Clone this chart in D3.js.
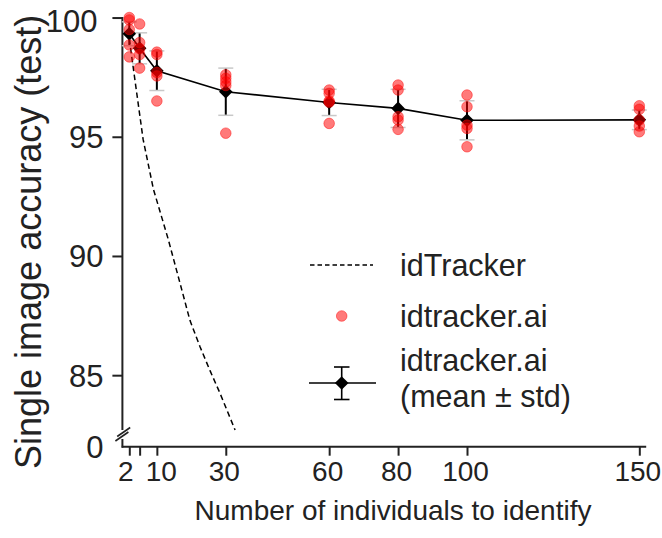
<!DOCTYPE html>
<html>
<head>
<meta charset="utf-8">
<script src="https://cdn.jsdelivr.net/npm/d3@7"></script>
<style>
  html, body { margin: 0; padding: 0; background: #fff; }
  svg { display: block; font-family: "Liberation Sans", Arial, Helvetica, sans-serif; }
  .tick-label { fill: #222; font-size: 28px; }
  .ytick-label { fill: #222; font-size: 31px; }
  .axis-title { fill: #222; font-size: 28px; }
  .axis-title-y { fill: #222; font-size: 36px; }
  .legend-text { fill: #222; font-size: 30.5px; }
</style>
</head>
<body>
<svg id="chart" width="662" height="538"></svg>
<script>
// Number of animals in each group
const groupSizes = [2, 5, 10, 30, 60, 80, 100, 150];

// idtracker.ai single-image accuracy per repetition (%), one list per group size
const accRuns2   = [100.0, 99.9, 99.5, 98.85, 98.35];
const accRuns5   = [99.73, 98.95, 98.7, 98.45, 97.88];
const accRuns10  = [98.55, 98.45, 97.7, 97.55, 96.5];
const accRuns30  = [97.6, 97.45, 97.3, 97.15, 95.15];
const accRuns60  = [96.96, 96.82, 96.5, 96.45, 95.56];
const accRuns80  = [97.17, 96.96, 95.84, 95.7, 95.31];
const accRuns100 = [96.75, 96.26, 95.49, 95.35, 94.58];
const accRuns150 = [96.3, 96.15, 95.7, 95.45, 95.21];

// idtracker.ai mean and standard deviation per group size (%)
const accMean = [99.32, 98.71, 97.77, 96.89, 96.44, 96.19, 95.69, 95.71];
const accStd  = [0.5, 0.65, 0.83, 0.99, 0.55, 0.8, 0.82, 0.41];

// idTracker accuracy curve (%)
const idTrackerN   = [2, 6, 9, 13.3, 17.2, 19.6, 22.5, 25.4, 28.3, 32.7];
const idTrackerAcc = [99.1, 94.9, 92.8, 90.7, 88.6, 87.3, 86.2, 85.2, 84.25, 82.7];

// Axis ticks
const xTickValues = [2, 5, 10, 30, 60, 80, 100, 150];
const xTickLabels = ["2", "", "10", "30", "60", "80", "100", "150"];
const yTickValues = [85, 90, 95, 100];
const yTickLabels = ["85", "90", "95", "100"];

const runsByGroup = [accRuns2, accRuns5, accRuns10, accRuns30, accRuns60, accRuns80, accRuns100, accRuns150];

const svg = d3.select("#chart");

const x = d3.scaleLinear().domain([0, 152]).range([122.4, 646.2]);
const y = d3.scaleLinear().domain([82, 100]).range([446.7, 17.55]);

const axisColor = "#222";
const axisY0 = y(82);

// ---- x axis ----
const xAxis = d3.axisBottom(x)
  .tickValues(xTickValues)
  .tickFormat((d, i) => xTickLabels[i])
  .tickSize(9)
  .tickSizeOuter(0)
  .tickPadding(5);
const gx = svg.append("g").attr("transform", `translate(0,${axisY0})`).call(xAxis);
gx.select(".domain").attr("stroke", axisColor).attr("stroke-width", 2)
  .attr("d", `M${x(0) - 0.7},0H${x(152)}`);
gx.selectAll(".tick line").attr("stroke", axisColor).attr("stroke-width", 2);
gx.selectAll(".tick text").attr("class", "tick-label").attr("font-size", null).attr("font-family", null)
  .attr("dx", d => d === 2 ? "-4" : d === 10 ? "4" : "-2");

// ---- y axis (broken near the bottom) ----
const yAxis = d3.axisLeft(y)
  .tickValues(yTickValues)
  .tickFormat((d, i) => yTickLabels[i])
  .tickSize(10)
  .tickSizeOuter(0)
  .tickPadding(9);
const gy = svg.append("g").attr("transform", `translate(${x(0)},0)`).call(yAxis);
gy.select(".domain").remove();
gy.selectAll(".tick line").attr("stroke", axisColor).attr("stroke-width", 2);
gy.selectAll(".tick text").attr("class", "ytick-label").attr("font-size", null).attr("font-family", null)
  .attr("dy", d => d === 100 ? "0.44em" : "0.35em")
  .attr("dx", d => d === 100 ? "-6" : "0");

// spine segments around the break
const x0 = x(0);
svg.append("line").attr("x1", x0).attr("x2", x0).attr("y1", y(100) - 0.5).attr("y2", 430)
  .attr("stroke", axisColor).attr("stroke-width", 2);
svg.append("line").attr("x1", x0).attr("x2", x0).attr("y1", 439).attr("y2", axisY0 + 1)
  .attr("stroke", axisColor).attr("stroke-width", 2);
// break marks
[[0, 0], [1.8, -4.5]].forEach(([dx, dy]) => {
  svg.append("line")
    .attr("x1", x0 - 7 + dx).attr("y1", 441 + dy)
    .attr("x2", x0 + 6 + dx).attr("y2", 432 + dy)
    .attr("stroke", axisColor).attr("stroke-width", 1.6);
});
// "0" at the base of the broken axis
svg.append("text").attr("class", "ytick-label")
  .attr("x", x0 - 19).attr("y", axisY0).attr("dy", "0.35em")
  .attr("text-anchor", "end").text("0");

// ---- axis titles ----
svg.append("text").attr("class", "axis-title")
  .attr("x", 393).attr("y", 520).attr("text-anchor", "middle")
  .text("Number of individuals to identify");
svg.append("text").attr("class", "axis-title-y")
  .attr("transform", `translate(41,469) rotate(-90)`).attr("text-anchor", "start")
  .text("Single image accuracy (test)");

// ---- idTracker dashed curve ----
const idLine = d3.line().x((d, i) => x(idTrackerN[i])).y(d => y(d));
svg.append("path").datum(idTrackerAcc)
  .attr("d", idLine)
  .attr("fill", "none").attr("stroke", "#000").attr("stroke-width", 1.5)
  .attr("stroke-dasharray", "5.5,3.5");

// ---- idtracker.ai mean ± std ----
const meanLine = d3.line().x((d, i) => x(groupSizes[i])).y(d => y(d));
svg.append("path").datum(accMean)
  .attr("d", meanLine).attr("fill", "none").attr("stroke", "#000").attr("stroke-width", 1.6);

const eb = svg.append("g");
groupSizes.forEach((n, i) => {
  const cx = x(n), top = y(accMean[i] + accStd[i]), bot = y(accMean[i] - accStd[i]);
  eb.append("line").attr("x1", cx).attr("x2", cx).attr("y1", top).attr("y2", bot)
    .attr("stroke", "#000").attr("stroke-width", 2);
  [top, bot].forEach(yy => {
    eb.append("line").attr("x1", cx - 7.5).attr("x2", cx + 7.5).attr("y1", yy).attr("y2", yy)
      .attr("stroke", "#c8c8c8").attr("stroke-width", 1.5);
  });
});

const diamond = (cx, cy, r) => `M${cx},${cy - r}L${cx + r},${cy}L${cx},${cy + r}L${cx - r},${cy}Z`;
svg.append("g").selectAll("path").data(accMean).join("path")
  .attr("d", (d, i) => diamond(x(groupSizes[i]), y(d), 6.8))
  .attr("fill", "#000");

// ---- idtracker.ai individual runs ----
const runPts = runsByGroup.flatMap((runs, i) => runs.map(v => ({ n: groupSizes[i], v })));
svg.append("g").selectAll("circle").data(runPts).join("circle")
  .attr("cx", d => x(d.n)).attr("cy", d => y(d.v)).attr("r", 5.3)
  .attr("fill", "red").attr("fill-opacity", 0.52)
  .attr("stroke", "red").attr("stroke-opacity", 0.45).attr("stroke-width", 1);

// ---- legend ----
const lg = svg.append("g");
lg.append("line").attr("x1", 310).attr("x2", 373).attr("y1", 265).attr("y2", 265)
  .attr("stroke", "#000").attr("stroke-width", 1.3).attr("stroke-dasharray", "4.5,3");
lg.append("text").attr("class", "legend-text").attr("x", 400).attr("y", 265).attr("dy", "0.35em").text("idTracker");

lg.append("circle").attr("cx", 341.7).attr("cy", 316).attr("r", 5.3)
  .attr("fill", "red").attr("fill-opacity", 0.52).attr("stroke", "red").attr("stroke-opacity", 0.45);
lg.append("text").attr("class", "legend-text").attr("x", 400).attr("y", 316).attr("dy", "0.35em").text("idtracker.ai");

lg.append("line").attr("x1", 309).attr("x2", 376).attr("y1", 383).attr("y2", 383)
  .attr("stroke", "#000").attr("stroke-width", 1.6);
lg.append("line").attr("x1", 341.7).attr("x2", 341.7).attr("y1", 367).attr("y2", 399.5)
  .attr("stroke", "#000").attr("stroke-width", 1.6);
[367, 399.5].forEach(yy => lg.append("line").attr("x1", 334).attr("x2", 349.5).attr("y1", yy).attr("y2", yy)
  .attr("stroke", "#000").attr("stroke-width", 1.6));
lg.append("path").attr("d", diamond(341.7, 383, 6.8)).attr("fill", "#000");
lg.append("text").attr("class", "legend-text").attr("x", 400).attr("y", 360).attr("dy", "0.35em").text("idtracker.ai");
lg.append("text").attr("class", "legend-text").attr("x", 400).attr("y", 396).attr("dy", "0.35em").text("(mean \u00b1 std)");
</script>
</body>
</html>
